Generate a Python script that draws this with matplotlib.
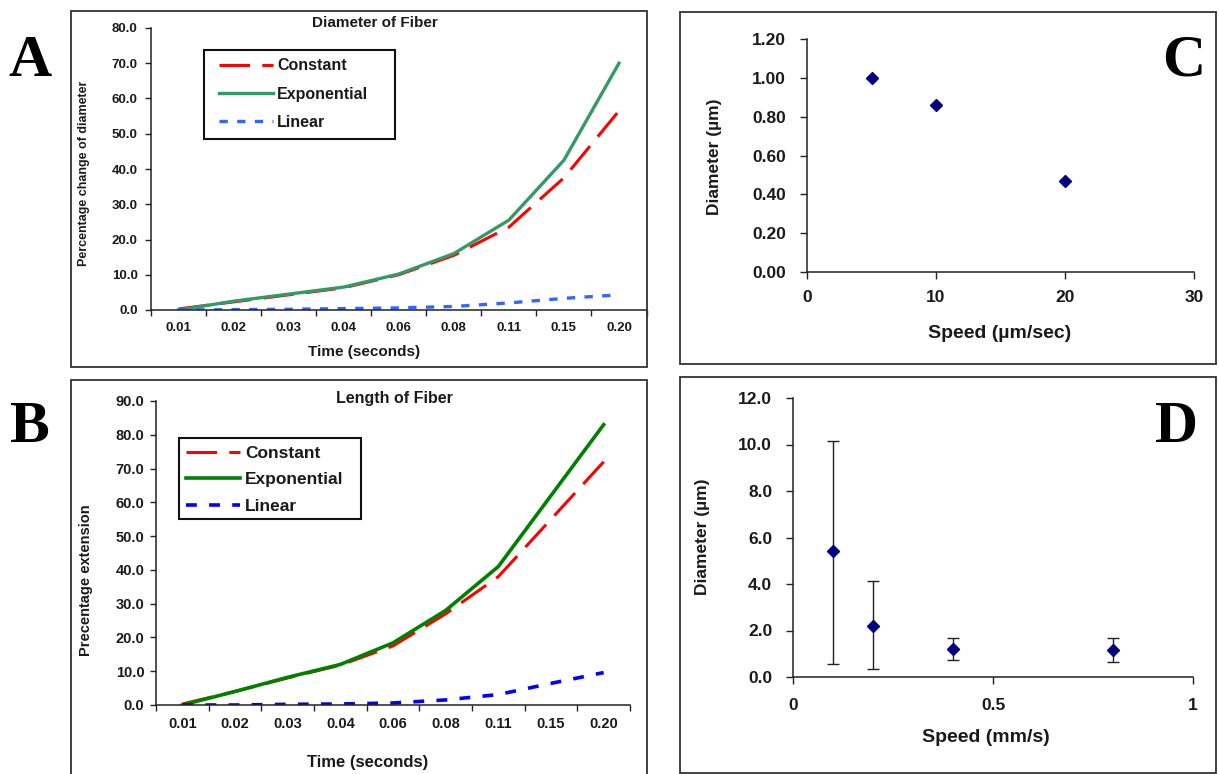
import matplotlib
matplotlib.use("Agg")
import matplotlib.pyplot as plt
from matplotlib.patches import Rectangle
import numpy as np

# ---------------- data ----------------
time_labels = ["0.01", "0.02", "0.03", "0.04", "0.06", "0.08", "0.11", "0.15", "0.20"]

diam_constant = [0.3, 2.3, 4.3, 6.3, 10.0, 15.5, 23.5, 37.5, 56.5]
diam_exponential = [0.0, 2.5, 4.5, 6.5, 10.2, 16.0, 25.5, 42.5, 70.0]
diam_linear = [0.0, 0.1, 0.2, 0.4, 0.6, 1.0, 2.0, 3.3, 4.3]

len_constant = [0.3, 4.0, 8.0, 11.8, 17.5, 27.0, 38.0, 55.0, 72.0]
len_exponential = [0.0, 4.0, 8.2, 12.0, 18.4, 28.0, 41.0, 62.0, 83.0]
len_linear = [0.0, 0.0, 0.2, 0.3, 0.6, 1.5, 3.1, 6.4, 9.6]

series_labels = ["Constant", "Exponential", "Linear"]

speed_c = [5, 10, 20]
diam_c = [1.00, 0.86, 0.47]

speed_d = [0.1, 0.2, 0.4, 0.8]
diam_d = [5.4, 2.2, 1.2, 1.15]
err_low_d = [4.83, 1.84, 0.45, 0.52]
err_high_d = [4.73, 1.92, 0.48, 0.53]

# ---------------- figure ----------------
W, H = 1219, 774
plt.rcParams["font.family"] = ["Liberation Sans", "DejaVu Sans"]
plt.rcParams["font.weight"] = "bold"
fig = plt.figure(figsize=(W / 100, H / 100), dpi=100)
fig.patch.set_facecolor("white")

TXT = "#1a1a1a"
AX = "#222222"


def ax_at(x0, y_top, x1, y_bottom):
    a = fig.add_axes([x0 / W, 1 - y_bottom / H, (x1 - x0) / W, (y_bottom - y_top) / H])
    a.patch.set_visible(False)
    for s in ("top", "right"):
        a.spines[s].set_visible(False)
    for s in ("left", "bottom"):
        a.spines[s].set_color(AX)
        a.spines[s].set_linewidth(1.1)
    return a


def frame(x0, y0, x1, y1, lw=1.3, ec="#333333"):
    fig.patches.append(Rectangle((x0 / W, 1 - y1 / H), (x1 - x0) / W, (y1 - y0) / H,
                                 transform=fig.transFigure, fill=False, lw=lw,
                                 ec=ec, zorder=0))


def ftext(x, y, s, **kw):
    kw.setdefault("color", TXT)
    kw.setdefault("fontweight", "bold")
    fig.text(x / W, 1 - y / H, s, **kw)


# panel frames
frame(71, 11, 647, 367)
frame(71, 380, 647, 790)
frame(680, 12, 1216, 364)
frame(680, 377, 1216, 773)

x = np.arange(len(time_labels))

# ---------------- panel A ----------------
axA = ax_at(151, 28, 646.5, 310)
lA1, = axA.plot(x, diam_constant, color="#FF0000", lw=2.2, dashes=(10, 4))
lA2, = axA.plot(x, diam_exponential, color="#339966", lw=2.4)
lA3, = axA.plot(x, diam_linear, color="#3366FF", lw=2.4, dashes=(2.5, 2.8))
axA.set_xlim(-0.5, 8.5)
axA.set_ylim(0, 80)
axA.set_yticks(np.arange(0, 81, 10))
axA.set_yticklabels([f"{v:.1f}" for v in np.arange(0, 81, 10)])
axA.set_xticks(x)
axA.set_xticklabels(time_labels)
axA.set_xticks(np.arange(-0.5, 9, 1), minor=True)
axA.tick_params(axis="x", which="major", length=0, pad=8.5, labelsize=9.5, labelcolor=TXT)
axA.tick_params(axis="x", which="minor", direction="out", length=4, width=1, color=AX)
axA.tick_params(axis="y", direction="out", length=4, width=1, color=AX, pad=5.5,
                labelsize=9.5, labelcolor=TXT)

legA = axA.legend([lA1, lA2, lA3], series_labels, loc="upper left",
                  bbox_to_anchor=(219 / W, 1 - 58.5 / H), bbox_transform=fig.transFigure,
                  frameon=False, borderpad=0, borderaxespad=0,
                  handlelength=3.35, handletextpad=0.3, labelspacing=0.82,
                  prop=dict(size=11.5, weight="bold"))
for t in legA.get_texts():
    t.set_color(TXT)
frame(204, 50, 395, 139, lw=1.5, ec="#111111")

ftext(375, 23, "Diameter of Fiber", ha="center", va="center", fontsize=11)
ftext(84.5, 173, "Percentage change of diameter", ha="center", va="center",
      rotation=90, fontsize=9)
ftext(364, 352, "Time (seconds)", ha="center", va="center", fontsize=11)

# ---------------- panel B ----------------
axB = ax_at(156, 401, 630, 705)
lB1, = axB.plot(x, len_constant, color="#FF0000", lw=2.2, dashes=(10, 4))
lB2, = axB.plot(x, len_exponential, color="#008000", lw=2.6)
lB3, = axB.plot(x, len_linear, color="#0000FF", lw=2.6, dashes=(3, 3.4))
axB.set_xlim(-0.5, 8.5)
axB.set_ylim(0, 90)
axB.set_yticks(np.arange(0, 91, 10))
axB.set_yticklabels([f"{v:.1f}" for v in np.arange(0, 91, 10)])
axB.set_xticks(x)
axB.set_xticklabels(time_labels)
axB.set_xticks(np.arange(-0.5, 9, 1), minor=True)
axB.tick_params(axis="x", which="major", length=0, pad=9, labelsize=10.5, labelcolor=TXT)
axB.tick_params(axis="x", which="minor", direction="out", length=4, width=1, color=AX)
axB.tick_params(axis="y", direction="out", length=4, width=1, color=AX, pad=4.3,
                labelsize=10.5, labelcolor=TXT)

legB = axB.legend([lB1, lB2, lB3], series_labels, loc="upper left",
                  bbox_to_anchor=(186 / W, 1 - 445.5 / H), bbox_transform=fig.transFigure,
                  frameon=False, borderpad=0, borderaxespad=0,
                  handlelength=3.1, handletextpad=0.3, labelspacing=0.66,
                  prop=dict(size=12.5, weight="bold"))
for t in legB.get_texts():
    t.set_color(TXT)
frame(179, 438, 361, 519, lw=1.5, ec="#111111")

ftext(394, 399, "Length of Fiber", ha="center", va="center", fontsize=11.5)
ftext(86, 580, "Precentage extension", ha="center", va="center",
      rotation=90, fontsize=10.5)
ftext(368, 762, "Time (seconds)", ha="center", va="center", fontsize=12)

# ---------------- panel C ----------------
axC = ax_at(807, 39.3, 1194, 272)
axC.plot(speed_c, diam_c, linestyle="none", marker="D", ms=5.8,
         color="#000080", mec="#000080")
axC.set_xlim(0, 30)
axC.set_ylim(0, 1.2)
axC.set_xticks([0, 10, 20, 30])
axC.set_yticks(np.arange(0, 1.21, 0.2))
axC.set_yticklabels([f"{v:.2f}" for v in np.arange(0, 1.21, 0.2)])
axC.tick_params(axis="x", direction="out", length=5, width=1, color=AX, pad=8,
                labelsize=12.5, labelcolor=TXT)
axC.tick_params(axis="y", direction="out", length=5, width=1, color=AX, pad=10,
                labelsize=12.5, labelcolor=TXT)
ftext(714, 157, "Diameter (µm)", ha="center", va="center", rotation=90, fontsize=12.5)
ftext(1000, 333, "Speed (µm/sec)", ha="center", va="center", fontsize=14)

# ---------------- panel D ----------------
axD = ax_at(793, 398, 1193, 677)
axD.errorbar(speed_d, diam_d, yerr=[err_low_d, err_high_d], fmt="D", ms=5.8,
             color="#000080", mec="#000080", ecolor=AX, elinewidth=1,
             capsize=4, capthick=1)
axD.set_xlim(0, 1)
axD.set_ylim(0, 12)
axD.set_xticks([0, 0.5, 1])
axD.set_xticklabels(["0", "0.5", "1"])
axD.set_yticks(np.arange(0, 12.1, 2))
axD.set_yticklabels([f"{v:.1f}" for v in np.arange(0, 12.1, 2)])
axD.tick_params(axis="x", direction="out", length=5, width=1, color=AX, pad=10,
                labelsize=12.5, labelcolor=TXT)
axD.tick_params(axis="y", direction="out", length=5, width=1, color=AX, pad=10,
                labelsize=12.5, labelcolor=TXT)
ftext(702, 537, "Diameter (µm)", ha="center", va="center", rotation=90, fontsize=12.5)
ftext(986, 738, "Speed (mm/s)", ha="center", va="center", fontsize=14)

# ---------------- panel letters ----------------
for lx, ly, s in [(30, 76, "A"), (29, 442, "B"), (1184, 75, "C"), (1177, 441.5, "D")]:
    fig.text(lx / W, 1 - ly / H, s, ha="center", va="baseline", color="black",
             fontsize=43, fontweight="bold", family=["Liberation Serif", "DejaVu Serif"])

fig.savefig("out.png", dpi=100, facecolor="white")
